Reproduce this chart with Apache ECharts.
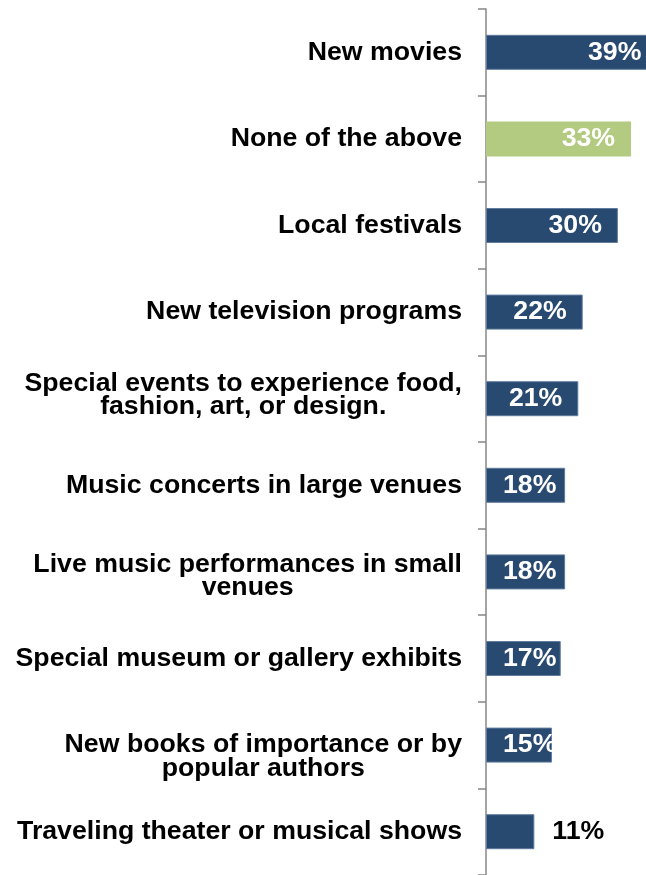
<!DOCTYPE html>
<html>
<head>
<meta charset="utf-8">
<title>Activities</title>
<script src="https://cdn.jsdelivr.net/npm/echarts@6/dist/echarts.min.js"></script>
<style>
  html, body { margin: 0; padding: 0; background: #ffffff; }
  #chart { width: 646px; height: 875px; }
</style>
</head>
<body>
<div id="chart"></div>
<script>
// Survey answers, top to bottom
const categories = [
  'New movies',
  'None of the above',
  'Local festivals',
  'New television programs',
  'Special events to experience food,\nfashion, art, or design.',
  'Music concerts in large venues',
  'Live music performances in small\nvenues',
  'Special museum or gallery exhibits',
  'New books of importance or by\npopular authors',
  'Traveling theater or musical shows'
];
// Share of respondents, percent
const values = [39, 33, 30, 22, 21, 18, 18, 17, 15, 11];
// Answer drawn in the accent colour
const accentCategory = 'None of the above';

const FONT = '"Liberation Sans", Arial, sans-serif';
const FONT_SIZE = 26.7;
const LINE_HEIGHT = 23.5;
const NAVY = '#284a70';
const GREEN = '#b3cb80';

// Wrapped labels get an invisible spacer line (height in px) above or below
// to fine-tune where the text block sits against its bar.
const labelSpacer = {
  4: { pos: 'below', h: 7 },
  6: { pos: 'above', h: 8 },
  8: { pos: 'above', h: 23 }
};

const richStyles = {
  c: {
    align: 'center',
    color: '#000000',
    fontFamily: FONT,
    fontWeight: 'bold',
    fontSize: FONT_SIZE,
    lineHeight: LINE_HEIGHT
  }
};
Object.keys(labelSpacer).forEach(k => {
  const h = labelSpacer[k].h;
  richStyles['gap' + h] = { fontSize: 6, lineHeight: h };
});

// Label placement: long bars carry the value at their end, mid bars at their start,
// and short bars next to the bar in dark text.
function labelFor(v) {
  if (v >= 20) {
    return { position: 'insideRight', distance: 16, color: '#ffffff' };
  }
  if (v >= 13) {
    return { position: 'insideLeft', distance: 17, color: '#ffffff' };
  }
  return { position: 'right', distance: 18, color: '#000000' };
}

const seriesData = values.map((v, i) => {
  const isAccent = categories[i] === accentCategory;
  return {
    value: v,
    itemStyle: {
      color: isAccent ? GREEN : NAVY,
      borderColor: isAccent ? GREEN : '#5f7b9d',
      borderWidth: isAccent ? 0 : 1
    },
    label: labelFor(v)
  };
});

const chart = echarts.init(document.getElementById('chart'), null, { renderer: 'canvas' });

chart.setOption({
  animation: false,
  backgroundColor: '#ffffff',
  grid: { left: 486, right: 0, top: 9, bottom: -4, containLabel: false },
  xAxis: {
    type: 'value',
    min: 0,
    max: 36.4,
    show: false
  },
  yAxis: {
    type: 'category',
    inverse: true,
    data: categories,
    axisLine: { show: true, lineStyle: { color: '#878787', width: 1.5 } },
    axisTick: { show: true, length: 8, lineStyle: { color: '#878787', width: 1.5 } },
    splitLine: { show: false },
    axisLabel: {
      margin: 24,
      align: 'right',
      color: '#000000',
      fontFamily: FONT,
      fontWeight: 'bold',
      fontSize: FONT_SIZE,
      lineHeight: LINE_HEIGHT,
      formatter: function (name, index) {
        if (name.indexOf('\n') < 0) return name;
        let text = name.split('\n').map(l => '{c|' + l + '}').join('\n');
        const sp = labelSpacer[index];
        if (sp) {
          const gap = '{gap' + sp.h + '| }';
          text = sp.pos === 'below' ? text + '\n' + gap : gap + '\n' + text;
        }
        return text;
      },
      rich: richStyles
    }
  },
  series: [{
    type: 'bar',
    data: seriesData,
    barWidth: 35,
    clip: false,
    label: {
      show: true,
      fontFamily: FONT,
      fontWeight: 'bold',
      fontSize: FONT_SIZE,
      formatter: '{c}%'
    }
  }]
});
</script>
</body>
</html>
